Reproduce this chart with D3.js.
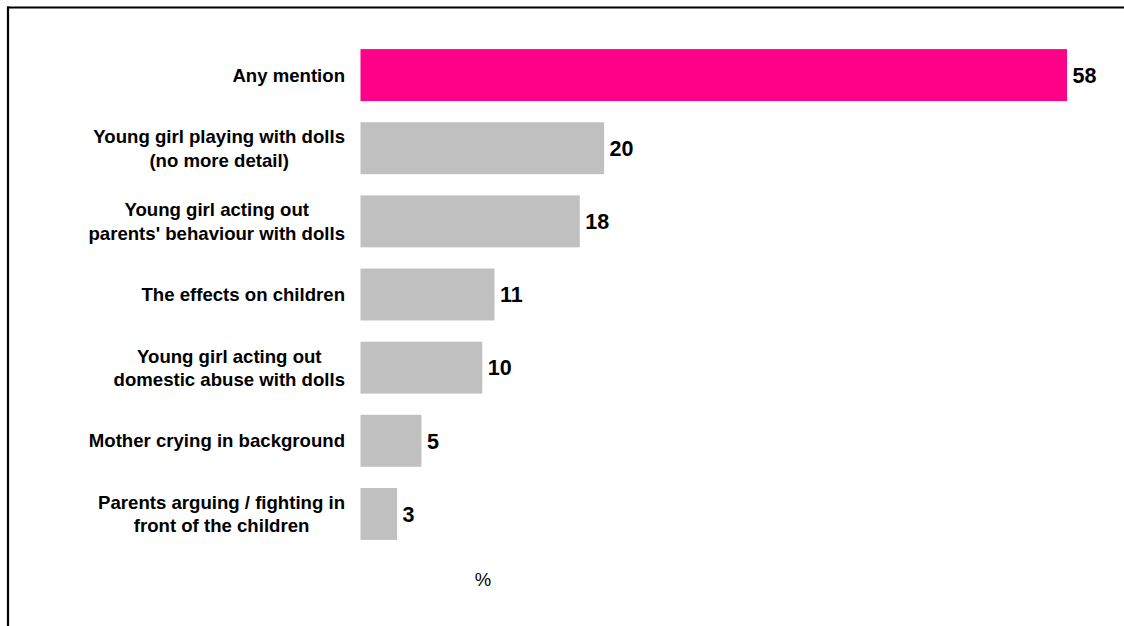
<!DOCTYPE html>
<html>
<head>
<meta charset="utf-8">
<script src="https://cdn.jsdelivr.net/npm/d3@7"></script>
<style>
  html, body { margin: 0; padding: 0; background: #fff; }
  svg { display: block; }
  text { font-family: "Liberation Sans", Arial, sans-serif; }
</style>
</head>
<body>
<svg id="chart" width="1124" height="626"></svg>
<script>
const categories = [
  ["Any mention"],
  ["Young girl playing with dolls", "(no more detail)"],
  ["Young girl acting out", "parents' behaviour with dolls"],
  ["The effects on children"],
  ["Young girl acting out", "domestic abuse with dolls"],
  ["Mother crying in background"],
  ["Parents arguing / fighting in", "front of the children"]
];
const values = [58, 20, 18, 11, 10, 5, 3];
const highlight = [true, false, false, false, false, false, false];
const unitLabel = "%";

const svg = d3.select("#chart");
const W = 1124, H = 626;

// frame (top and left)
svg.append("line").attr("x1", 7).attr("x2", W).attr("y1", 7.5).attr("y2", 7.5)
  .attr("stroke", "#000").attr("stroke-width", 2.2);
svg.append("line").attr("x1", 8).attr("x2", 8).attr("y1", 6.5).attr("y2", H)
  .attr("stroke", "#000").attr("stroke-width", 2.2);

const idx = d3.range(categories.length);
const y = d3.scaleBand().domain(idx).range([38.5, 550.5]).paddingInner(0.29).paddingOuter(0.145);
const x = d3.scaleLinear().domain([0, 58]).range([360.5, 1067]);

const g = svg.append("g");

g.selectAll("rect.bar").data(idx).join("rect")
  .attr("class", "bar")
  .attr("x", x(0))
  .attr("y", i => y(i))
  .attr("width", i => x(values[i]) - x(0))
  .attr("height", y.bandwidth())
  .attr("fill", i => highlight[i] ? "#ff0088" : "#c0c0c0");

g.selectAll("text.val").data(idx).join("text")
  .attr("class", "val")
  .attr("x", i => x(values[i]) + 5.5)
  .attr("y", i => y(i) + y.bandwidth() / 2 + 7.8)
  .attr("font-size", 21.5)
  .attr("font-weight", "bold")
  .attr("fill", "#000")
  .text(i => values[i]);

const labels = g.selectAll("text.cat").data(idx).join("text")
  .attr("class", "cat")
  .attr("text-anchor", "middle")
  .attr("font-size", 18.6)
  .attr("font-weight", "bold")
  .attr("fill", "#000");

labels.each(function(i) {
  const lines = categories[i];
  const cy = y(i) + y.bandwidth() / 2;
  const lh = 23.5;
  const t = d3.select(this);
  lines.forEach((ln, k) => {
    t.append("tspan")
      .attr("y", cy + 6.7 + (k - (lines.length - 1) / 2) * lh)
      .text(ln);
  });
});
// lines centered relative to each other within a block whose right edge is at 345
labels.each(function() {
  const tspans = d3.select(this).selectAll("tspan").nodes();
  const widths = tspans.map(n => n.getComputedTextLength());
  const maxW = d3.max(widths);
  const cx = 345 - maxW / 2;
  tspans.forEach(n => d3.select(n).attr("x", cx));
});

svg.append("text")
  .attr("x", 483)
  .attr("y", 586)
  .attr("text-anchor", "middle")
  .attr("font-size", 18.5)
  .attr("fill", "#000")
  .text(unitLabel);
</script>
</body>
</html>
